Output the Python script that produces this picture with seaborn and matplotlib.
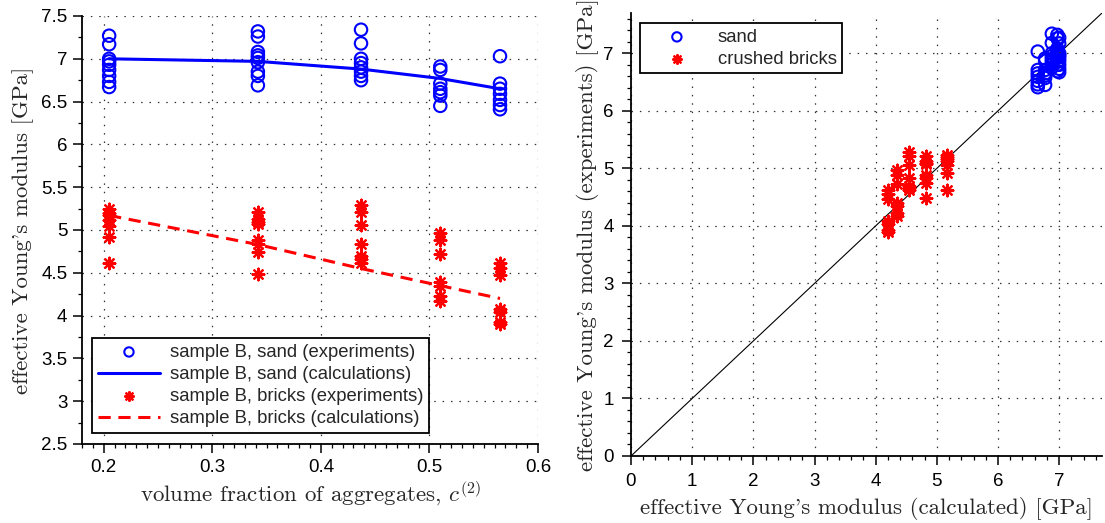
import numpy as np
import pandas as pd
import matplotlib
matplotlib.use("Agg")
import matplotlib.pyplot as plt
import seaborn as sns
from matplotlib.ticker import MultipleLocator, FuncFormatter

# ---------------- data ----------------
fractions = [0.205, 0.342, 0.437, 0.51, 0.565]
sand_calc = [7.00, 6.97, 6.88, 6.77, 6.65]
bricks_calc = [5.17, 4.83, 4.55, 4.35, 4.20]
sand_exp = [
    [7.27, 7.17, 7.00, 6.97, 6.93, 6.87, 6.80, 6.73, 6.67],
    [7.32, 7.26, 7.08, 7.04, 7.01, 6.96, 6.85, 6.80, 6.69],
    [7.34, 7.18, 7.00, 6.95, 6.90, 6.85, 6.80, 6.75],
    [6.91, 6.87, 6.71, 6.65, 6.61, 6.57, 6.45],
    [7.03, 6.71, 6.65, 6.59, 6.52, 6.46, 6.41],
]
bricks_exp = [
    [5.24, 5.20, 5.17, 5.12, 5.05, 4.92, 4.62],
    [5.21, 5.13, 5.09, 5.07, 4.88, 4.84, 4.74, 4.49],
    [5.29, 5.21, 5.06, 4.84, 4.70, 4.66, 4.62],
    [4.97, 4.88, 4.72, 4.39, 4.35, 4.23, 4.17],
    [4.62, 4.56, 4.47, 4.08, 4.04, 3.92, 3.90],
]

def long_frame(exp, calc):
    rows = []
    for f, c, vals in zip(fractions, calc, exp):
        for v in vals:
            rows.append({"fraction": f, "calc": c, "exp": v})
    return pd.DataFrame(rows)

sand_df = long_frame(sand_exp, sand_calc)
bricks_df = long_frame(bricks_exp, bricks_calc)
calc_df = pd.DataFrame({"fraction": fractions, "sand": sand_calc, "bricks": bricks_calc})

# ---------------- style ----------------
sns.set_style("ticks")
plt.rcParams["font.family"] = ["Liberation Sans", "DejaVu Sans"]
plt.rcParams["mathtext.fontset"] = "cm"
plt.rcParams["axes.unicode_minus"] = False

TICK_FS = 13.5
LEG_FS = 13.3
LABEL_FS = 16.5
BLUE = (0, 0, 1)
RED = (1, 0, 0)
ASTER = (8, 2, 0)
grid_kw = dict(color="k", linestyle=(0, (1.2, 5.5)), linewidth=0.9, alpha=0.8)
fmt = FuncFormatter(lambda v, p: f"{v:g}")

fig = plt.figure(figsize=(11.05, 5.23), dpi=100)
axL = fig.add_axes([82/1105, 1-444/523, (538-82)/1105, (444-16)/523])
axR = fig.add_axes([631/1105, 1-456/523, (1102-631)/1105, (456-13)/523])

def style_axes(ax, pad=4):
    for s in ["top", "right"]:
        ax.spines[s].set_visible(False)
    for s in ["left", "bottom"]:
        ax.spines[s].set_linewidth(1.3)
        ax.spines[s].set_color("k")
    ax.tick_params(which="major", direction="out", length=6.5, width=1.1,
                   labelsize=TICK_FS, colors="k", pad=pad)
    ax.tick_params(which="minor", direction="out", length=3, width=0.9, colors="k")
    ax.grid(True, which="major", **grid_kw)
    ax.set_axisbelow(True)

def make_legend(ax, **kw):
    h, l = ax.get_legend_handles_labels()
    leg = ax.legend(h, l, borderaxespad=0, fontsize=LEG_FS, frameon=True,
                    fancybox=False, edgecolor="k", framealpha=1, handlelength=3.4,
                    labelspacing=0.28, borderpad=0.3, handletextpad=0.5,
                    markerscale=0.75, **kw)
    leg.get_frame().set_linewidth(1.3)
    return leg

# ---------------- left panel ----------------
sns.scatterplot(data=sand_df, x="fraction", y="exp", ax=axL, marker="o",
                facecolor="none", edgecolor=BLUE, linewidth=1.5, s=80,
                label="sample B, sand (experiments)", zorder=3)
sns.lineplot(data=calc_df, x="fraction", y="sand", ax=axL, color=BLUE,
             linewidth=2.2, label="sample B, sand (calculations)", zorder=4)
sns.scatterplot(data=bricks_df, x="fraction", y="exp", ax=axL, marker=ASTER,
                color=RED, edgecolor=RED, linewidth=1.6, s=70,
                label="sample B, bricks (experiments)", zorder=3)
sns.lineplot(data=calc_df, x="fraction", y="bricks", ax=axL, color=RED,
             linewidth=2.2, linestyle=(0, (4, 2.5)),
             label="sample B, bricks (calculations)", zorder=4)

axL.set_xlim(0.18, 0.6)
axL.set_ylim(2.5, 7.5)
axL.xaxis.set_major_locator(MultipleLocator(0.1))
axL.xaxis.set_minor_locator(MultipleLocator(0.01))
axL.yaxis.set_major_locator(MultipleLocator(0.5))
axL.yaxis.set_minor_locator(MultipleLocator(0.25))
axL.xaxis.set_major_formatter(fmt)
axL.yaxis.set_major_formatter(fmt)
style_axes(axL)
axL.set_xlabel(r"volume fraction of aggregates, $c^{(2)}$", fontsize=LABEL_FS,
               family="cmr10", labelpad=3)
axL.set_ylabel("effective Young's modulus [GPa]", fontsize=LABEL_FS,
               family="cmr10", labelpad=5)
make_legend(axL, loc="lower left", bbox_to_anchor=(0.022, 0.026))

# ---------------- right panel ----------------
axR.axline((0, 0), slope=1, color="k", linewidth=0.8, zorder=2)
sns.scatterplot(data=sand_df, x="calc", y="exp", ax=axR, marker="o",
                facecolor="none", edgecolor=BLUE, linewidth=1.5, s=80,
                label="sand", zorder=3)
sns.scatterplot(data=bricks_df, x="calc", y="exp", ax=axR, marker=ASTER,
                color=RED, edgecolor=RED, linewidth=1.6, s=70,
                label="crushed bricks", zorder=3)
axR.set_xlim(0, 7.7)
axR.set_ylim(0, 7.7)
axR.xaxis.set_major_locator(MultipleLocator(1))
axR.xaxis.set_minor_locator(MultipleLocator(0.2))
axR.yaxis.set_major_locator(MultipleLocator(1))
axR.yaxis.set_minor_locator(MultipleLocator(0.2))
axR.xaxis.set_major_formatter(fmt)
axR.yaxis.set_major_formatter(fmt)
style_axes(axR, pad=6)
axR.set_xlabel("effective Young's modulus (calculated) [GPa]", fontsize=LABEL_FS,
               family="cmr10", labelpad=5)
axR.set_ylabel("effective Young's modulus (experiments) [GPa]", fontsize=LABEL_FS,
               family="cmr10", labelpad=3)
make_legend(axR, loc="upper left", bbox_to_anchor=(0.019, 0.977))

fig.savefig("out.png", dpi=100)
